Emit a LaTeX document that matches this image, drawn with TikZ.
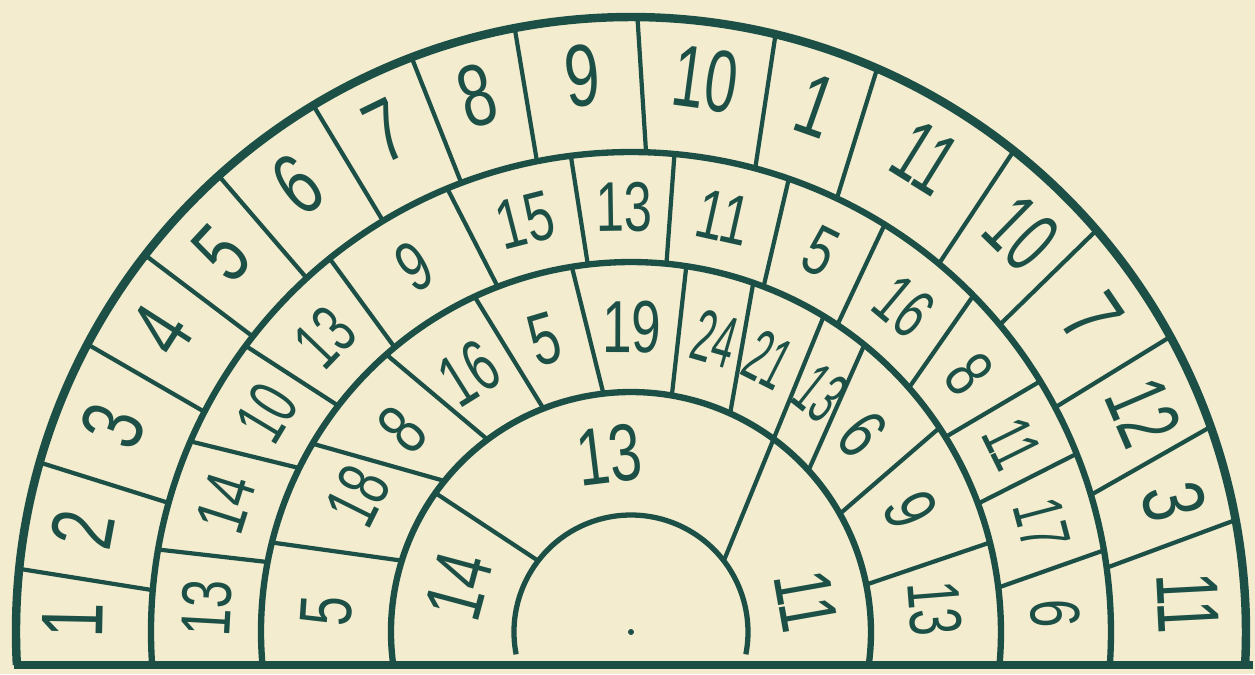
\documentclass[tikz,border=0pt]{standalone}
\usepackage{fontspec}
\setmainfont{Liberation Sans}
\usepackage{graphicx}
\definecolor{paper}{RGB}{243,236,207}
\definecolor{ink}{RGB}{28,80,70}
\newcommand{\slimnum}[2][0.72]{\scalebox{#1}[1]{#2}}

\begin{document}
\begin{tikzpicture}[
        rim/.style={draw=ink, line width=2.4pt},
        ring/.style={draw=ink, line width=1.8pt},
        spoke/.style={draw=ink, line width=1.2pt},
        num/.style={text=ink, inner sep=0pt},
        numA/.style={num, font=\fontsize{25}{25}\selectfont},
        numB/.style={num, font=\fontsize{20}{20}\selectfont},
        numC/.style={num, font=\fontsize{21}{21}\selectfont},
        numD/.style={num, font=\fontsize{23}{23}\selectfont}
    ]
    \useasboundingbox[fill=paper] (-6.31,-0.42) rectangle (6.24,6.32);

    \draw[rim] (183.08:6.15) arc[start angle=183.08, end angle=-3.08, radius=6.15];
    \draw[ring] (183.94:4.80) arc[start angle=183.94, end angle=-3.94, radius=4.80];
    \draw[ring] (185.12:3.70) arc[start angle=185.12, end angle=-5.12, radius=3.70];
    \draw[ring] (187.90:2.40) arc[start angle=187.90, end angle=-7.90, radius=2.40];
    \draw[ring, line width=1.5pt] (191:1.17) arc[start angle=191, end angle=-11, radius=1.17];
    \draw[rim] (-6.17,-0.33) -- (6.22,-0.33);
    \fill[ink] (0,0) circle (0.03);

    \foreach \a/\b in {174.1/175.0, 164.0/164.4, 152.1/152.7, 142.2/142.0, 132.1/132.5,
        121.1/121.1, 110.9/110.7, 100.9/101.3, 89.4/88.2, 76.4/75.0, 66.4/64.6,
        51.5/50.1, 40.8/39.8, 28.7/27.9, 19.5/16.6, 10.5/7.7}
        \draw[spoke] (\a:6.15) -- (\b:4.80);
    \foreach \a/\b in {170.1/169.1, 156.6/153.7, 143.4/142.3, 128.9/129.7, 112.5/111.1,
        97.2/96.7, 84.8/84.5, 70.8/69.0, 58.1/56.1, 44.5/41.3, 31.5/31.8, 21.8/20.3, 9.8/6.9}
        \draw[spoke] (\a:4.80) -- (\b:3.70);
    \foreach \a/\b in {166.0/162.7, 149.4/141.0, 131.4/126.7, 115.0/111.4, 99.2/96.6,
        81.4/80.2, 70.7/65.6, 50.9/42.3, 33.5/29.5, 14.0/11.4}
        \draw[spoke] (\a:3.70) -- (\b:2.40);
    \draw[spoke] (58.6:3.70) -- (37.5:1.17);
    \draw[spoke] (144.6:2.40) -- (142.5:1.17);

    \foreach \ang/\txt/\w [count=\i] in {178.8/1/0.72, 169.4/2/0.72, 158.3/3/0.72, 147.3/4/0.72,
        137.2/5/0.72, 126.7/6/0.72, 116/7/0.72, 106/8/0.72, 95/9/0.72, 82.3/10/0.66,
        70.6/1/0.72, 58.2/11/0.62, 45.6/10/0.62, 34.3/7/0.72, 23.2/12/0.62, 13.5/3/0.72, 3/11/0.66}
        \node[numA, rotate=\ang-90] (outer\i) at (\ang:5.58) {\slimnum[\w]{\txt}};
    \foreach \ang/\txt/\w [count=\i] in {176.8/13/0.72, 162.4/14/0.72, 149/10/0.66, 136.1/13/0.66,
        120.6/9/0.72, 104.4/15/0.72, 90.9/13/0.72, 77.4/11/0.72, 63.5/5/0.72, 50/16/0.66,
        37.3/8/0.72, 26.3/11/0.62, 14.7/17/0.62, 2.5/6/0.72}
        \node[numB, rotate=\ang-90] (second\i) at (\ang:4.25) {\slimnum[\w]{\txt}};
    \foreach \ang/\txt/\w [count=\i] in {176/5/0.72, 153.5/18/0.66, 138.5/8/0.72, 122/16/0.66,
        106.5/5/0.72, 89.8/19/0.72, 74/24/0.52, 63.2/21/0.5, 51.6/13/0.5, 40.5/6/0.72,
        23.5/9/0.72, 4.5/13/0.66}
        \node[numC, rotate=\ang-90] (third\i) at (\ang:3.05) {\slimnum[\w]{\txt}};
    \foreach \ang/\txt/\w [count=\i] in {165/14/0.72, 97/13/0.72, 10/11/0.72}
        \node[numD, rotate=\ang-90] (inner\i) at (\ang:1.78) {\slimnum[\w]{\txt}};
\end{tikzpicture}
\end{document}
